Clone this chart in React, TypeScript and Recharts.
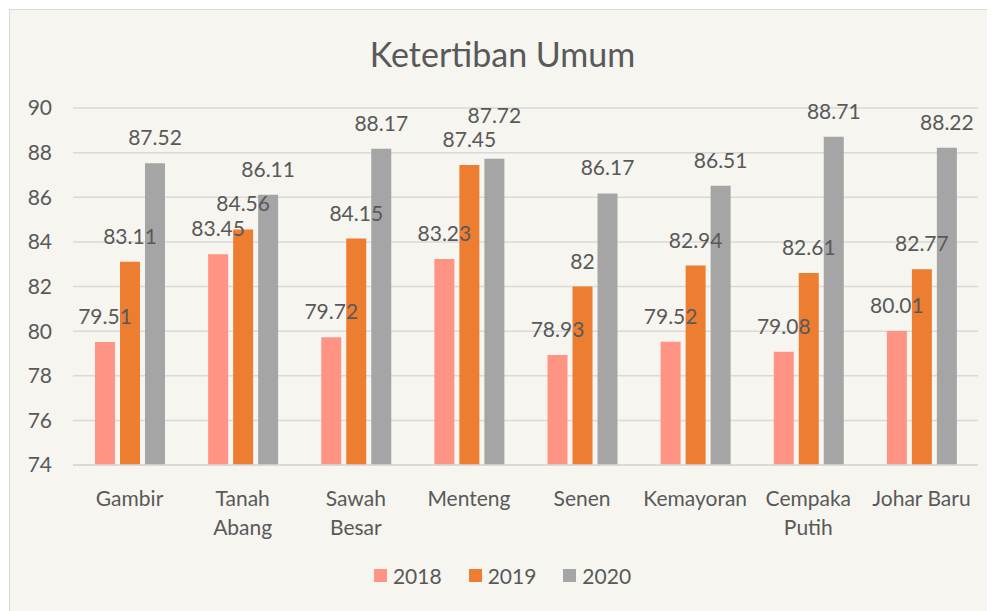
import { BarChart, Bar, XAxis, YAxis, CartesianGrid, LabelList } from "recharts";

const categories = [
  "Gambir",
  "Tanah\nAbang",
  "Sawah\nBesar",
  "Menteng",
  "Senen",
  "Kemayoran",
  "Cempaka\nPutih",
  "Johar Baru",
];
const values2018 = [79.51, 83.45, 79.72, 83.23, 78.93, 79.52, 79.08, 80.01];
const values2019 = [83.11, 84.56, 84.15, 87.45, 82, 82.94, 82.61, 82.77];
const values2020 = [87.52, 86.11, 88.17, 87.72, 86.17, 86.51, 88.71, 88.22];
const yTicks = [74, 76, 78, 80, 82, 84, 86, 88, 90];

const series = [
  { key: "y2018", name: "2018", color: "#ff9485", values: values2018 },
  { key: "y2019", name: "2019", color: "#ed7d31", values: values2019 },
  { key: "y2020", name: "2020", color: "#a5a5a5", values: values2020 },
];

const data = categories.map((name, i) => ({
  name,
  y2018: values2018[i],
  y2019: values2019[i],
  y2020: values2020[i],
}));

const FONT = "Lato, 'Open Sans', sans-serif";
const TEXT = "#595959";

function CategoryTick(props: { x?: number; y?: number; payload?: { value: string } }) {
  const { x = 0, y = 0, payload } = props;
  const lines = String(payload?.value ?? "").split("\n");
  return (
    <g>
      {lines.map((line, i) => (
        <text
          key={i}
          x={x}
          y={y + 39 + i * 29}
          textAnchor="middle"
          fill={TEXT}
          fontSize={21}
          fontFamily={FONT}
        >
          {line}
        </text>
      ))}
    </g>
  );
}

// Excel pushes a label up when it would collide with the neighbour's label
function makeLabel(seriesIdx: number) {
  return function BarLabel(props: any) {
    const { x = 0, y = 0, width = 0, value, index = 0 } = props;
    let lift = 0;
    if (seriesIdx > 0) {
      const prev = series[seriesIdx - 1].values[index];
      const cur = series[seriesIdx].values[index];
      if (Math.abs(cur - prev) < 0.5) lift = 18;
    }
    return (
      <text
        x={x + width / 2}
        y={y - 18 - lift}
        textAnchor="middle"
        fill={TEXT}
        fontSize={21}
        fontFamily={FONT}
      >
        {value}
      </text>
    );
  };
}

export default function App() {
  return (
    <div
      style={{
        position: "relative",
        width: 987,
        height: 603,
        margin: "1px 0 0 1px",
        boxSizing: "border-box",
        border: "1px solid #d9d9d9",
        background: "#f6f5f0",
        fontFamily: FONT,
      }}
    >
      <div
        style={{
          position: "absolute",
          top: 23,
          left: 0,
          width: "100%",
          textAlign: "center",
          fontSize: 34,
          color: TEXT,
        }}
      >
        Ketertiban Umum
      </div>
      <BarChart
        width={985}
        height={601}
        data={data}
        margin={{ top: 98, right: 17, bottom: 116, left: 0 }}
        barSize={20}
        barGap={5}
      >
        <CartesianGrid vertical={false} stroke="#d9d9d9" strokeWidth={1.5} />
        <XAxis
          dataKey="name"
          axisLine={{ stroke: "#d9d9d9", strokeWidth: 1.5 }}
          tickLine={false}
          tickSize={0}
          tick={<CategoryTick />}
          interval={0}
        />
        <YAxis
          width={63}
          domain={[74, 90]}
          ticks={yTicks}
          axisLine={false}
          tickLine={false}
          tickSize={0}
          tickMargin={21}
          tick={{ fill: TEXT, fontSize: 21, fontFamily: FONT }}
        />
        {series.map((s, si) => (
          <Bar key={s.key} dataKey={s.key} name={s.name} fill={s.color} isAnimationActive={false}>
            <LabelList dataKey={s.key} content={makeLabel(si)} />
          </Bar>
        ))}
      </BarChart>
      <div
        style={{
          position: "absolute",
          top: 553,
          left: 0,
          width: "100%",
          display: "flex",
          justifyContent: "center",
          gap: 27,
          fontSize: 21,
          color: TEXT,
        }}
      >
        {series.map((s) => (
          <div key={s.key} style={{ display: "flex", alignItems: "center" }}>
            <span
              style={{ width: 13, height: 13, background: s.color, display: "inline-block", marginRight: 6 }}
            />
            <span>{s.name}</span>
          </div>
        ))}
      </div>
    </div>
  );
}
